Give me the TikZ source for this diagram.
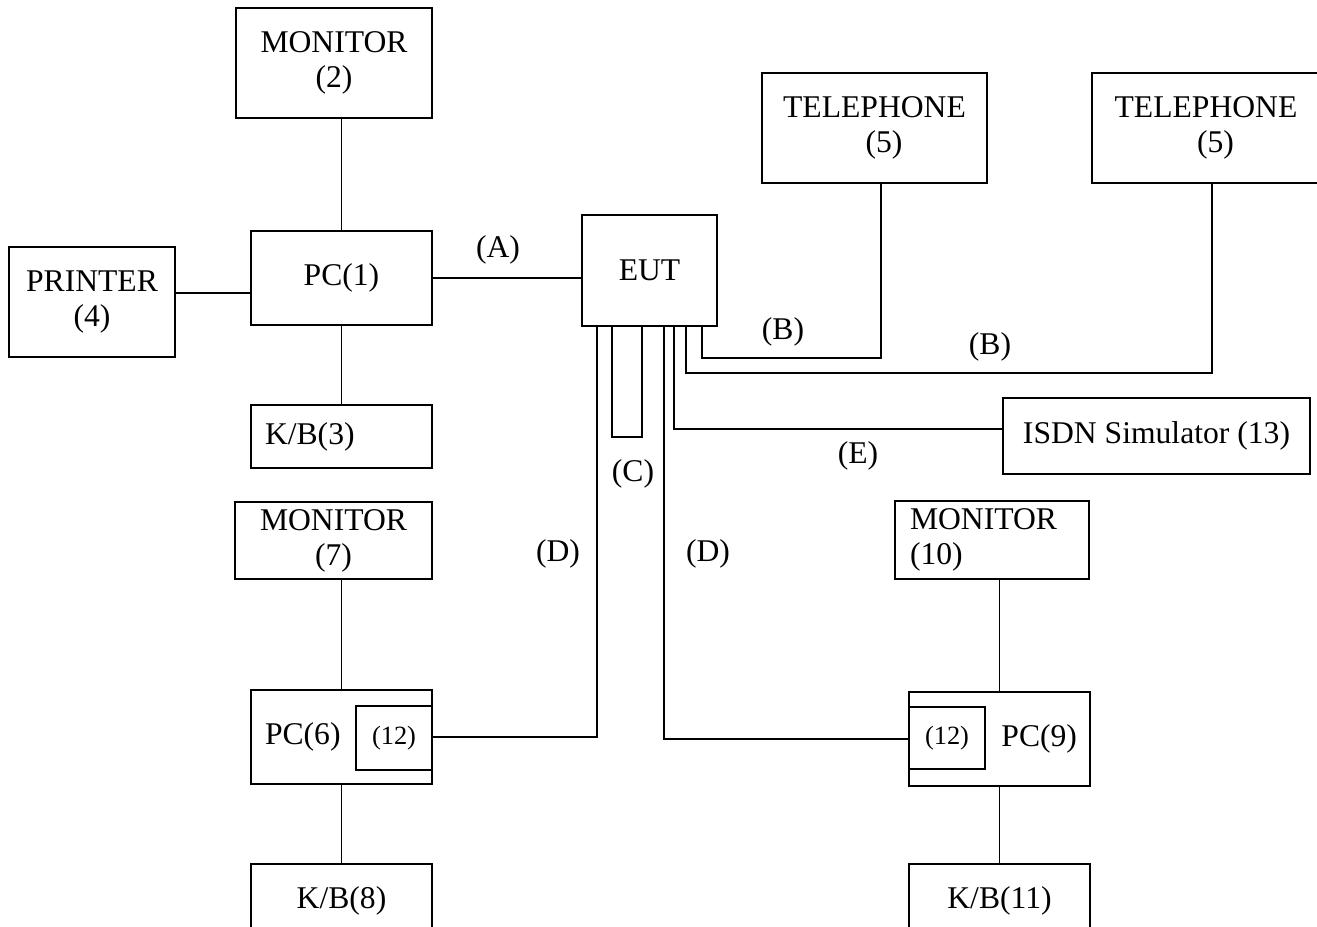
\documentclass[tikz,border=0pt]{standalone}
\usepackage{fontspec}
\setmainfont{Liberation Serif}

\begin{document}
\begin{tikzpicture}[
x=0.02cm, y=-0.02cm,
box/.style={draw, line width=0.8pt, inner sep=0pt, align=center, minimum width=3.62cm, font=\fontsize{18}{20}\selectfont},
sub/.style={draw, line width=0.8pt, inner sep=0pt, minimum width=1.52cm, font=\fontsize{15}{17}\selectfont},
wire/.style={line width=0.8pt},
lab/.style={font=\fontsize{18}{20}\selectfont}
]
\clip (0,0) rectangle (1317,926);
% left-hand PC group
\node[box, minimum width=3.92cm, minimum height=2.2cm] (mon2) at (334,63) {MONITOR\\(2)};
\node[box, minimum height=1.88cm] (pc1) at (341.5,278) {PC(1)};
\node[box, minimum width=3.32cm, minimum height=2.2cm] (prn) at (92,302) {PRINTER\\(4)};
\node[box, minimum height=1.26cm, text width=3.06cm, align=left] (kb3) at (341.5,436.5) {K/B(3)};
% unit under test and its peers
\node[box, minimum width=2.7cm, minimum height=2.22cm] (eut) at (649.5,270.5) {EUT};
\node[box, minimum width=4.5cm, minimum height=2.2cm] (tel1) at (874.5,128) {TELEPHONE\\\hspace*{0.6em}(5)};
\node[box, minimum width=4.56cm, minimum height=2.2cm] (tel2) at (1206,128) {TELEPHONE\\\hspace*{0.6em}(5)};
\node[box, minimum width=6.14cm, minimum height=1.52cm] (isdn) at (1156.5,436) {ISDN Simulator (13)};
% lower left PC
\node[box, minimum width=3.94cm, minimum height=1.54cm] (mon7) at (333.5,540.5) {MONITOR\\(7)};
\node[box, minimum height=1.88cm, text width=3.06cm, align=left] (pc6) at (341.5,737) {PC(6)};
\node[sub, minimum height=1.28cm] (card6) at (394,738) {(12)};
\node[box, minimum height=1.48cm] (kb8) at (341.5,901) {K/B(8)};
% lower right PC
\node[box, minimum width=3.88cm, minimum height=1.56cm, text width=3.28cm, align=left] (mon10) at (992,540) {MONITOR\\(10)};
\node[box, minimum height=1.88cm, text width=3.1cm, align=right] (pc9) at (999.5,739) {PC(9)};
\node[sub, minimum height=1.24cm] (card9) at (947,738) {(12)};
\node[box, minimum height=1.48cm] (kb11) at (999.5,901) {K/B(11)};

\draw[wire] (pc1.north |- mon2.south) -- (pc1.north);
\draw[wire] (prn.east |- 0,293) -- (pc1.west |- 0,293);
\draw[wire] (pc1.south) -- (kb3.north);
\draw[wire] (pc1.east) -- (pc1.east -| eut.west);
\draw[wire] (eut.south -| 597,0) |- (pc6.east);
\draw[wire] (eut.south -| 612,0) -- (612,437) -- (642,437) -- (eut.south -| 642,0);
\draw[wire] (eut.south -| 664,0) |- (pc9.west);
\draw[wire] (eut.south -| 674,0) |- (isdn.west |- 0,429);
\draw[wire] (eut.south -| 686,0) -- (686,373) -| (tel2.south -| 1212,0);
\draw[wire] (eut.south -| 702,0) -- (702,358) -| (tel1.south -| 881,0);
\draw[wire] (pc6.north) -- (pc6.north |- mon7.south);
\draw[wire] (pc6.south) -- (kb8.north);
\draw[wire] (pc9.north) -- (pc9.north |- mon10.south);
\draw[wire] (pc9.south) -- (kb11.north);

\node[lab] (la) at (498,250) {(A)};
\node[lab] (lb1) at (783,332) {(B)};
\node[lab] (lb2) at (990,347) {(B)};
\node[lab] (lc) at (633,474) {(C)};
\node[lab] (ld1) at (558,554) {(D)};
\node[lab] (ld2) at (708,554) {(D)};
\node[lab] (le) at (858,456) {(E)};
\end{tikzpicture}
\end{document}
